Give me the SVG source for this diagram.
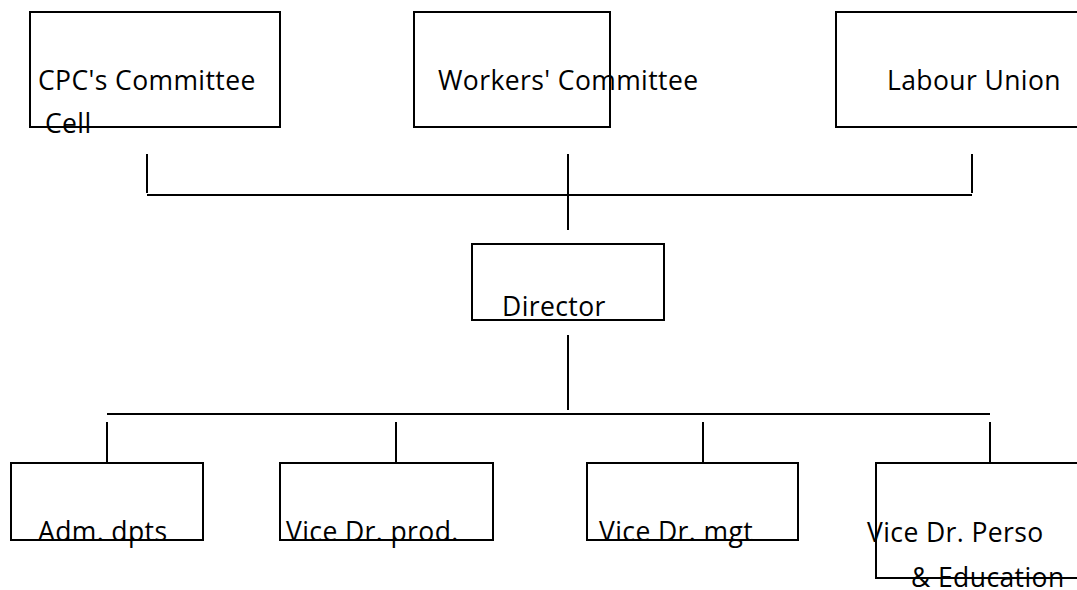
<svg xmlns="http://www.w3.org/2000/svg" width="1077" height="590" viewBox="0 0 1077 590">
<style>
.box{fill:none;stroke:#000;stroke-width:2}
.ln{stroke:#000;stroke-width:2;fill:none}
text{font-family:"Open Sans","Noto Sans",sans-serif;font-size:26.5px;letter-spacing:0.4px;fill:#000}
</style>
<rect width="1077" height="590" fill="#fff"/>
<g id="connectors">
<line class="ln" x1="147" y1="154" x2="147" y2="193"/>
<line class="ln" x1="972" y1="154" x2="972" y2="193"/>
<line class="ln" x1="147" y1="195" x2="972" y2="195"/>
<line class="ln" x1="568" y1="154" x2="568" y2="230"/>
<line class="ln" x1="568" y1="335" x2="568" y2="410"/>
<line class="ln" x1="107" y1="414" x2="990" y2="414"/>
<line class="ln" x1="107" y1="422" x2="107" y2="462"/>
<line class="ln" x1="396" y1="422" x2="396" y2="462"/>
<line class="ln" x1="703" y1="422" x2="703" y2="462"/>
<line class="ln" x1="990" y1="422" x2="990" y2="462"/>
</g>
<g id="cpc">
<rect class="box" x="30" y="12" width="250" height="115"/>
<text x="38" y="90">CPC's Committee</text>
<text x="45" y="133">Cell</text>
</g>
<g id="workers">
<rect class="box" x="414" y="12" width="196" height="115"/>
<text x="438" y="90">Workers' Committee</text>
</g>
<g id="labour">
<rect class="box" x="836" y="12" width="260" height="115"/>
<text x="887" y="90">Labour Union</text>
</g>
<g id="director">
<rect class="box" x="472" y="244" width="192" height="76"/>
<text x="502" y="316">Director</text>
</g>
<g id="adm">
<rect class="box" x="11" y="463" width="192" height="77"/>
<text x="38" y="541">Adm. dpts</text>
</g>
<g id="prod">
<rect class="box" x="280" y="463" width="213" height="77"/>
<text x="286" y="541">Vice Dr. prod.</text>
</g>
<g id="mgt">
<rect class="box" x="587" y="463" width="211" height="77"/>
<text x="599" y="541">Vice Dr. mgt</text>
</g>
<g id="perso">
<rect class="box" x="876" y="463" width="220" height="115"/>
<text x="867" y="542">Vice Dr. Perso</text>
<text x="911" y="587">&amp; Education</text>
</g>
</svg>
